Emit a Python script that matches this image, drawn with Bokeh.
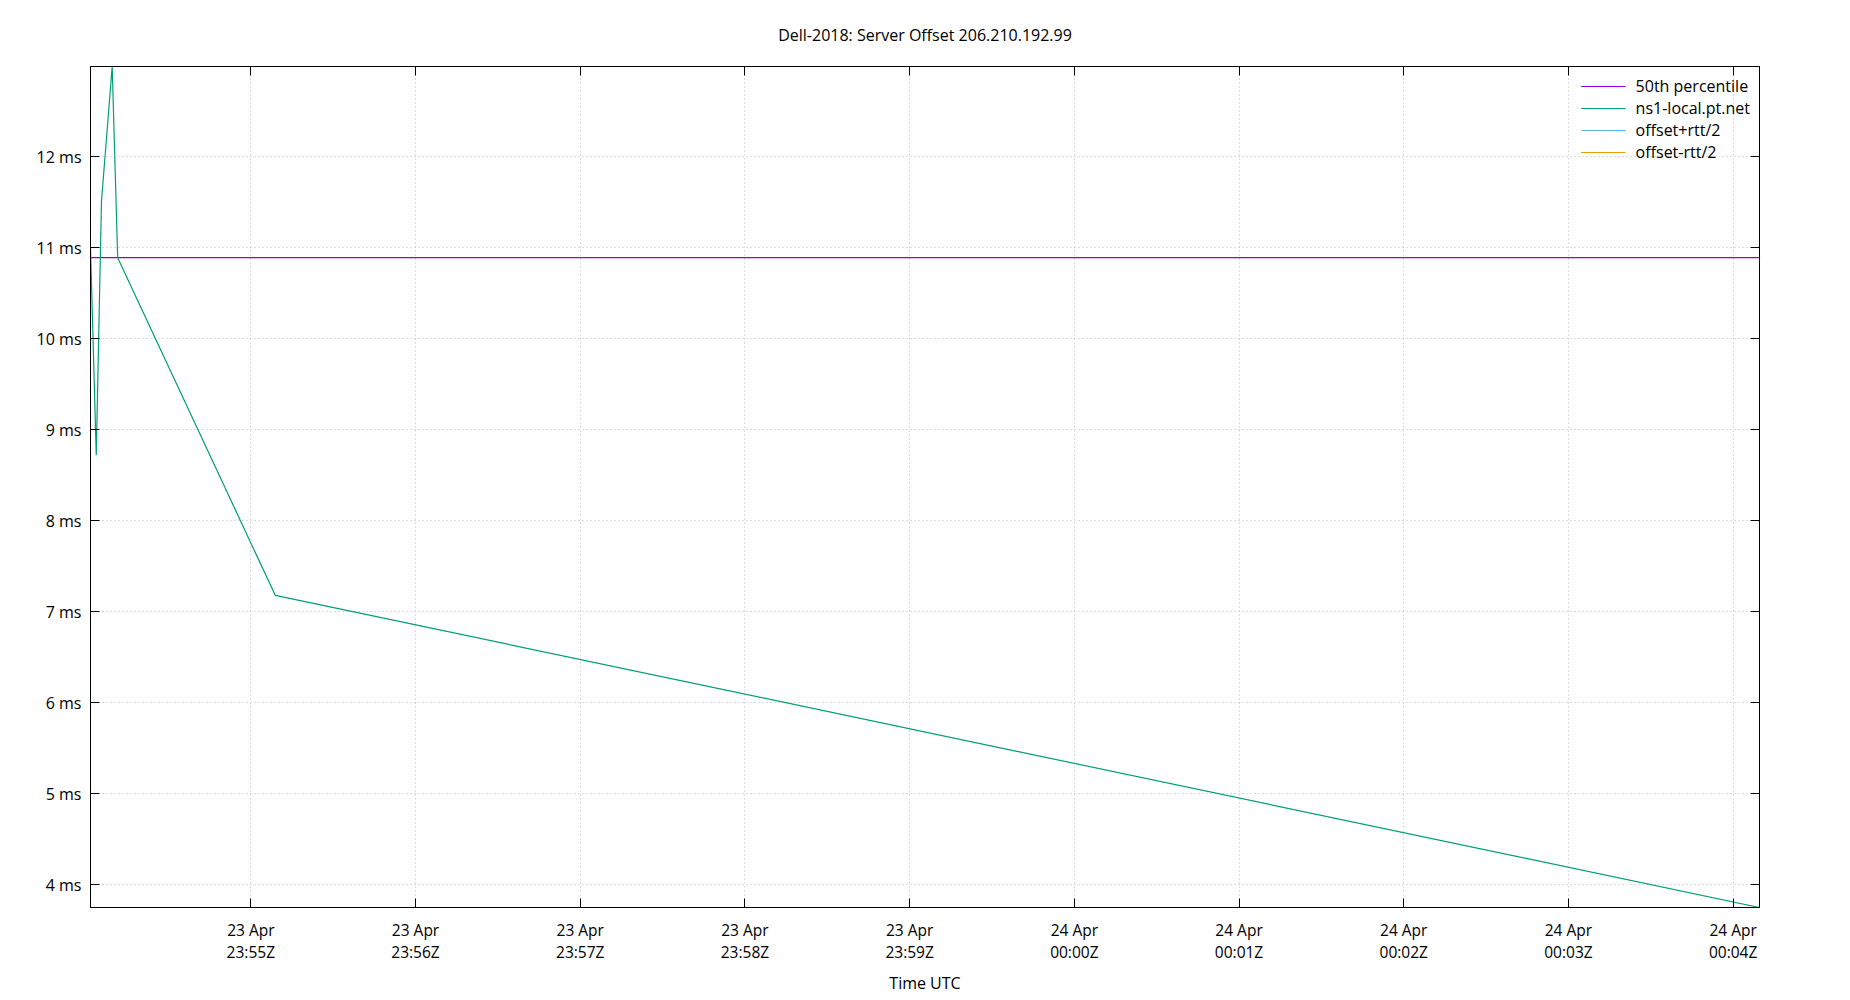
import math
import pandas as pd
from bokeh.plotting import figure
from bokeh.models import Range1d, FixedTicker, LinearAxis, Legend, LegendItem
from bokeh.embed import file_html
from bokeh.resources import INLINE

# ---------------- data ----------------
title_text = "Dell-2018: Server Offset 206.210.192.99"
server_name = "ns1-local.pt.net"
times = [
    "2023-04-23 23:54:01.6",
    "2023-04-23 23:54:03.7",
    "2023-04-23 23:54:05.6",
    "2023-04-23 23:54:09.5",
    "2023-04-23 23:54:11.5",
    "2023-04-23 23:55:08.9",
    "2023-04-24 00:04:09.6",
]
offset_ms = [11.0, 8.72, 11.51, 12.99, 10.89, 7.18, 3.75]
percentile_50_ms = 10.89
# offset +/- rtt/2 series: no visible values in the chart (legend only)
rtt_plus_ms = [math.nan] * len(times)
rtt_minus_ms = [math.nan] * len(times)
x_tick_times = [
    "2023-04-23 23:55", "2023-04-23 23:56", "2023-04-23 23:57", "2023-04-23 23:58",
    "2023-04-23 23:59", "2023-04-24 00:00", "2023-04-24 00:01", "2023-04-24 00:02",
    "2023-04-24 00:03", "2023-04-24 00:04",
]
x_tick_labels = [
    "23 Apr\n23:55Z", "23 Apr\n23:56Z", "23 Apr\n23:57Z", "23 Apr\n23:58Z",
    "23 Apr\n23:59Z", "24 Apr\n00:00Z", "24 Apr\n00:01Z", "24 Apr\n00:02Z",
    "24 Apr\n00:03Z", "24 Apr\n00:04Z",
]
y_ticks = [4, 5, 6, 7, 8, 9, 10, 11, 12]
y_tick_labels = ["4 ms", "5 ms", "6 ms", "7 ms", "8 ms", "9 ms", "10 ms", "11 ms", "12 ms"]
x_label = "Time UTC"


def to_ms(lst):
    return [float(v) for v in (pd.to_datetime(lst).asi8 // 10**6)]


t_ms = to_ms(times)
xt_ms = to_ms(x_tick_times)

FONT = "Open Sans"

p = figure(
    frame_width=1669, frame_height=841,
    min_border_left=90, min_border_right=40, min_border_top=66, min_border_bottom=40,
    x_axis_type="datetime",
    output_backend="svg", toolbar_location=None,
    x_range=Range1d(min(t_ms), max(t_ms)),
    y_range=Range1d(min(offset_ms), max(offset_ms)),
)
p.background_fill_color = "white"
p.border_fill_color = "white"
p.outline_line_color = "black"
p.outline_line_width = 1

p.title.text = title_text
p.title.align = "center"
p.title.text_font = FONT
p.title.text_font_size = "16px"
p.title.text_font_style = "normal"
p.title.text_color = "black"
p.title.standoff = 42

# axes
xax = p.xaxis[0]
xax.ticker = FixedTicker(ticks=xt_ms)
xax.major_label_overrides = {k: lab for k, lab in zip(xt_ms, x_tick_labels)}
xax.axis_label = x_label
yax = p.yaxis[0]
yax.ticker = FixedTicker(ticks=y_ticks)
yax.major_label_overrides = {k: lab for k, lab in zip(y_ticks, y_tick_labels)}

for ax in (xax, yax):
    ax.major_tick_in = 9
    ax.major_tick_out = 0
    ax.minor_tick_line_color = None
    ax.major_tick_line_color = "black"
    ax.axis_line_color = "black"
    ax.major_label_text_font = FONT
    ax.major_label_text_color = "black"
    ax.axis_label_text_font = FONT
    ax.axis_label_text_font_size = "16px"
    ax.axis_label_text_font_style = "normal"
    ax.axis_label_text_color = "black"
xax.major_label_text_font_size = "15.5px"
xax.major_label_text_line_height = 1.0
yax.major_label_text_font_size = "16px"
xax.major_label_standoff = 11
xax.axis_label_standoff = 6
yax.major_label_standoff = 9

# mirror axes (ticks only)
top_ax = LinearAxis(ticker=FixedTicker(ticks=xt_ms))
right_ax = LinearAxis(ticker=FixedTicker(ticks=y_ticks))
for ax in (top_ax, right_ax):
    ax.major_tick_in = 9
    ax.major_tick_out = 0
    ax.minor_tick_line_color = None
    ax.major_label_text_font_size = "1px"
    ax.major_label_text_color = None
    ax.major_label_standoff = 0
    ax.axis_line_color = "black"
p.add_layout(top_ax, "above")
p.add_layout(right_ax, "right")

for g in (p.xgrid[0], p.ygrid[0]):
    g.grid_line_color = "#b8b8b8"
    g.grid_line_dash = "1 3"
    g.grid_line_width = 1

# series
r_pct = p.line(x=[min(t_ms), max(t_ms)], y=[percentile_50_ms, percentile_50_ms],
               line_color="#9400d3", line_width=1.2)
r_srv = p.line(x=t_ms, y=offset_ms, line_color="#009e73", line_width=1.2)
r_plus = p.line(x=t_ms, y=rtt_plus_ms, line_color="#56b4e9", line_width=1.2)
r_minus = p.line(x=t_ms, y=rtt_minus_ms, line_color="#e69f00", line_width=1.2)

legend = Legend(items=[
    LegendItem(label="50th percentile", renderers=[r_pct]),
    LegendItem(label=server_name, renderers=[r_srv]),
    LegendItem(label="offset+rtt/2", renderers=[r_plus]),
    LegendItem(label="offset-rtt/2", renderers=[r_minus]),
])
legend.location = "top_right"
legend.border_line_color = None
legend.background_fill_alpha = 0
legend.label_text_font = FONT
legend.label_text_font_size = "16px"
legend.label_text_color = "black"
legend.glyph_width = 45
legend.glyph_height = 18
legend.label_height = 18
legend.spacing = 0
legend.margin = 9
legend.padding = 6
legend.label_standoff = 10
p.add_layout(legend)

open("out.html", "w").write(file_html(p, INLINE))
